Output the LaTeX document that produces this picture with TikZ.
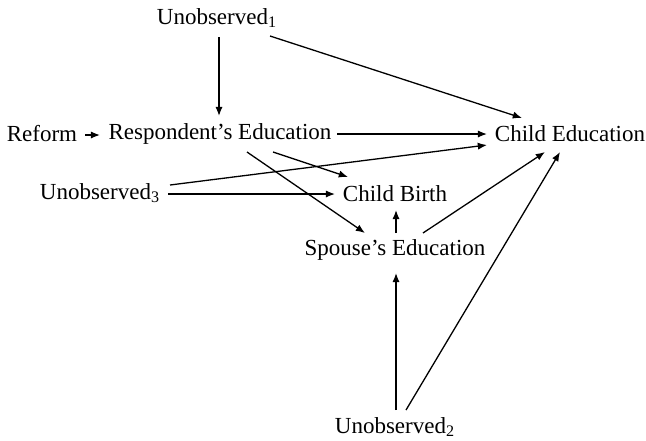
\documentclass[tikz,border=0pt]{standalone}
\usepackage{fontspec}
\setmainfont{Liberation Serif}
\usetikzlibrary{arrows.meta}
\newcommand{\unobs}[1]{Unobserved\textsubscript{#1}}

\begin{document}
\begin{tikzpicture}[x=0.5pt,y=-0.5pt,->,>={Latex[length=4.6pt,width=3.6pt]},line width=0.65pt,
		var/.style={inner sep=0pt,font=\fontsize{11.5}{13}\selectfont}]
		\useasboundingbox (0,0) rectangle (646,440);
		\node[var]  (unobsA)     at (217,18)  {\unobs{1}};
		\node[var]  (reform)     at (42,134)  {Reform};
		\node[var]  (respEdu)    at (220,134) {Respondent's Education};
		\node[var]  (childEdu)   at (570,134) {Child Education};
		\node[var]  (unobsC)     at (100,193) {\unobs{3}};
		\node[var]  (childBirth) at (395,194) {Child Birth};
		\node[var]  (spouseEdu)  at (395,250) {Spouse's Education};
		\node[var]  (unobsB)     at (395,427) {\unobs{2}};
		
		\path[->]
		([shift={(2,19)}]unobsA.center) edge ([shift={(-1,-18)}]respEdu.center)
		([shift={(53,18)}]unobsA.center) edge ([shift={(-48,-16)}]childEdu.center)
		([shift={(43,1)}]reform.center) edge ([shift={(-120,1)}]respEdu.center)
		([shift={(117,0)}]respEdu.center) edge ([shift={(-83,0)}]childEdu.center)
		([shift={(53,18)}]respEdu.center) edge ([shift={(-47,-17)}]childBirth.center)
		([shift={(27,18)}]respEdu.center) edge ([shift={(-30,-17)}]spouseEdu.center)
		([shift={(70,-8)}]unobsC.center) edge ([shift={(-83,11)}]childEdu.center)
		([shift={(68,1)}]unobsC.center) edge ([shift={(-60,0)}]childBirth.center)
		([shift={(1,-17)}]spouseEdu.center) edge ([shift={(1,16)}]childBirth.center)
		([shift={(28,-17)}]spouseEdu.center) edge ([shift={(-25,18)}]childEdu.center)
		([shift={(1,-17)}]unobsB.center) edge ([shift={(1,23)}]spouseEdu.center)
		([shift={(11,-17)}]unobsB.center) edge ([shift={(-10,18)}]childEdu.center);
\end{tikzpicture}
\end{document}
